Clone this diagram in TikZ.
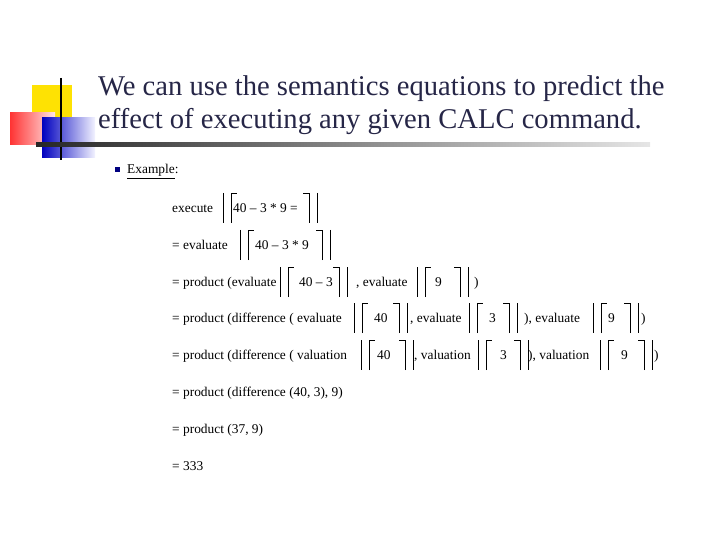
\documentclass[tikz,border=0pt]{standalone}
\usepackage{fontspec}
\setmainfont{Liberation Serif}
\tikzset{
    body/.style = {anchor = base west, inner sep = 0pt, font = \fontsize{13.4}{15}\selectfont},
    brk/.style = {line width = 0.8pt}
}
% semantic brackets: left outer x, right outer x, baseline y
\newcommand\sembr[3]{%
    \draw[brk] (#1, #3 - 15) -- ++ (0, 30);
    \draw[brk] (#1 + 8, #3 + 15) -- ++ (0, -30) -- ++ (6, 0);
    \draw[brk] (#2, #3 - 15) -- ++ (0, 30);
    \draw[brk] (#2 - 8, #3 + 15) -- ++ (0, -30) -- ++ (-6, 0);
}

\begin{document}
\begin{tikzpicture}[x = 1pt, y = -1pt]
    \useasboundingbox (0, 0) rectangle (720, 540);

    \fill[yellow!85!orange] (32, 85) rectangle (72, 118);
    \shade[left color = red!80, right color = red!10] (10, 113) rectangle (55, 145);
    \shade[left color = blue!75!black, right color = blue!5] (42, 118) rectangle (95, 158);
    \draw[line width = 2pt] (61, 78) -- (61, 160);
    \shade[left color = black!85, right color = black!10] (36, 143) rectangle (650, 147);

    \node[anchor = base west, inner sep = 0pt, font = \fontsize{28.6}{32}\selectfont, text = blue!15!black!85] (title1) at (98, 96) {We can use the semantics equations to predict the};
    \node[anchor = base west, inner sep = 0pt, font = \fontsize{28.6}{32}\selectfont, text = blue!15!black!85] (title2) at (98, 129) {effect of executing any given CALC command.};

    \fill[blue!50!black] (115, 167) rectangle ++ (5, 5);
    \node[body] (ex) at (127, 174) {\underline{Example}:};

    \node[body] (r1) at (172, 212) {execute};
    \node[body] at (233, 212) {40 -- 3 * 9 =};
    \sembr{223}{317}{208}

    \node[body] (r2) at (172, 249) {= evaluate};
    \node[body] at (255, 249) {40 -- 3 * 9};
    \sembr{240}{330}{245}

    \node[body] (r3) at (172, 286) {= product (evaluate};
    \node[body] at (299, 286) {40 -- 3};
    \sembr{280}{347}{282}
    \node[body] at (356, 286) {, evaluate};
    \node[body] at (435, 286) {9};
    \sembr{417}{468}{282}
    \node[body] at (474, 286) {)};

    \node[body] (r4) at (172, 322) {= product (difference ( evaluate};
    \node[body] at (374, 322) {40};
    \sembr{354}{407}{318}
    \node[body] at (410, 322) {, evaluate};
    \node[body] at (489, 322) {3};
    \sembr{469}{517}{318}
    \node[body] at (524, 322) {), evaluate};
    \node[body] at (608, 322) {9};
    \sembr{593}{638}{318}
    \node[body] at (641, 322) {)};

    \node[body] (r5) at (172, 359) {= product (difference ( valuation};
    \node[body] at (377, 359) {40};
    \sembr{361}{413}{355}
    \node[body] at (414, 359) {, valuation};
    \node[body] at (500, 359) {3};
    \sembr{478}{528}{355}
    \node[body] at (528, 359) {), valuation};
    \node[body] at (621, 359) {9};
    \sembr{600}{652}{355}
    \node[body] at (654, 359) {)};

    \node[body] (r6) at (172, 396) {= product (difference (40, 3), 9)};
    \node[body] (r7) at (172, 433) {= product (37, 9)};
    \node[body] (r8) at (172, 470) {= 333};
\end{tikzpicture}
\end{document}
